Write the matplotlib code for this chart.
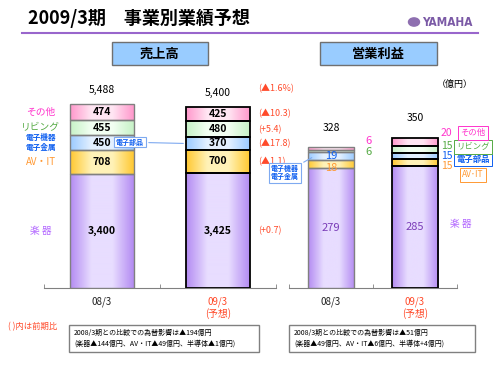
import numpy as np
import matplotlib
matplotlib.use("Agg")
import matplotlib.pyplot as plt
from matplotlib.patches import Rectangle, Circle
from matplotlib.colors import LinearSegmentedColormap

plt.rcParams['font.family'] = ['Noto Sans CJK JP', 'DejaVu Sans']

###############################################################################
# Data

categories = ['08/3', '09/3\n(予想)']
segments = ['楽 器', 'AV・IT', '電子機器\n電子金属', 'リビング', 'その他']

sales_0803 = [3400, 708, 450, 455, 474]
sales_0903 = [3425, 700, 370, 480, 425]
sales_totals = ['5,488', '5,400']
sales_change = ['(+0.7)', '(▲1.1)', '(▲17.8)', '(+5.4)', '(▲10.3)']
sales_total_change = '(▲1.6%)'

op_0803 = [279, 18, 19, 6, 6]
op_0903 = [285, 15, 15, 15, 20]
op_totals = ['328', '350']
op_box_labels = ['', 'AV･IT', '電子部品', 'リビング', 'その他']

note_sales = ['2008/3期との比較での為替影響は▲194億円',
              '(楽器▲144億円、AV・IT▲49億円、半導体▲1億円)']
note_op = ['2008/3期との比較での為替影響は▲51億円',
           '(楽器▲49億円、AV・IT▲6億円、半導体+4億円)']

###############################################################################
# Styles

edge_cols = ['#B48CF2', '#FFC933', '#9CCBFF', '#C8F2C8', '#FF99CC']
mid_cols = ['#E8DDFF', '#FFF2B8', '#E4F1FF', '#F2FFF2', '#FFE6F3']
text_cols = ['#B266FF', '#FF9933', '#1060F0', '#55AA44', '#FF33CC']
red = '#FF4A2A'

W, H = 500, 375


def fx(px):
    return px / W


def fy(py):
    return 1 - py / H


fig = plt.figure(figsize=(5, 3.75), dpi=100)


def gradient_bars(ax, x, vals, width, edgecolor, lw):
    bottom = 0
    for i, v in enumerate(vals):
        bar = ax.bar(x, v, width, bottom=bottom, facecolor='none',
                     edgecolor=edgecolor, linewidth=lw, zorder=4)[0]
        cmap = LinearSegmentedColormap.from_list(
            'g', [edge_cols[i], mid_cols[i], mid_cols[i], edge_cols[i]])
        grad = np.linspace(0, 1, 64).reshape(1, -1)
        im = ax.imshow(grad, cmap=cmap, aspect='auto', interpolation='bicubic',
                       extent=[x - width / 2, x + width / 2, bottom, bottom + v],
                       zorder=3)
        im.set_clip_path(bar)
        bottom += v
    return np.cumsum(vals)


def setup_axis(ax, ymax):
    ax.set_xlim(-0.5, 1.5)
    ax.set_ylim(0, ymax)
    for s in ['left', 'right', 'top']:
        ax.spines[s].set_visible(False)
    ax.spines['bottom'].set_color('#808080')
    ax.set_yticks([])
    ax.set_xticks([0, 1])
    ax.set_xticklabels(categories, fontsize=7, linespacing=1.1)
    ax.tick_params(axis='x', which='major', length=0, pad=6)
    ax.set_xticks([-0.5, 0.5, 1.5], minor=True)
    ax.tick_params(axis='x', which='minor', direction='in', length=3,
                   color='#808080')
    labels = ax.get_xticklabels()
    labels[0].set_color('#222222')
    labels[1].set_color(red)
    ax.patch.set_alpha(0)


###############################################################################
# Sales chart

ax1 = fig.add_axes([fx(44), fy(288), 232 / W, 208 / H])
setup_axis(ax1, 6204)
top1 = gradient_bars(ax1, 0, sales_0803, 0.55, '#808080', 1.0)
top2 = gradient_bars(ax1, 1, sales_0903, 0.55, 'black', 1.3)

for tops, vals, x in [(top1, sales_0803, 0), (top2, sales_0903, 1)]:
    for t, v in zip(tops, vals):
        ax1.text(x, t - v / 2, f'{v:,}', ha='center', va='center',
                 fontsize=7.5, fontweight='bold', zorder=6)
for x, lab, t in zip([0, 1], sales_totals, [top1[-1], top2[-1]]):
    ax1.annotate(lab, (x, t), xytext=(0, 10), textcoords='offset points',
                 ha='center', va='center', fontsize=7.5)

# segment names on the left
for i, (t, v) in enumerate(zip(top1, sales_0803)):
    fs = 5.5 if '\n' in segments[i] else 7
    ax1.text(-0.53, t - v / 2, segments[i], ha='center', va='center',
             fontsize=fs, color=text_cols[i], fontweight='bold' if fs < 6 else 'normal',
             linespacing=1.1, clip_on=False)

# change vs previous year
for t, v, lab in zip(top2, sales_0903, sales_change):
    ax1.text(1.345, t - v / 2, lab, ha='left', va='center', fontsize=6.5,
             color=red, clip_on=False)
ax1.annotate(sales_total_change, (1.345, top2[-1]), xytext=(0, 13),
             textcoords='offset points', ha='left', va='center',
             fontsize=6.5, color=red, annotation_clip=False)

# callout 電子部品
ax1.annotate('電子部品', xy=(1 - 0.275, top2[2] - sales_0903[2] / 2),
             xytext=(0.24, top2[2] - sales_0903[2] / 2 + 40),
             ha='center', va='center', fontsize=5, fontweight='bold',
             color='#1060F0', zorder=7,
             bbox=dict(boxstyle='square,pad=0.25', fc='white', ec='#7FAAF0', lw=0.8),
             arrowprops=dict(arrowstyle='-', color='#7FAAF0', lw=0.8))

###############################################################################
# Operating income chart

ax2 = fig.add_axes([fx(289), fy(288), 168 / W, 208 / H])
setup_axis(ax2, 484)
otop1 = gradient_bars(ax2, 0, op_0803, 0.55, '#808080', 1.0)
otop2 = gradient_bars(ax2, 1, op_0903, 0.55, 'black', 1.3)

ax2.text(0, otop1[0] / 2, f'{op_0803[0]}', ha='center', va='center',
         fontsize=8, color='#7A3CB8', zorder=6)
ax2.text(1, otop2[0] / 2, f'{op_0903[0]}', ha='center', va='center',
         fontsize=8, color='#7A3CB8', zorder=6)
for x, lab, t in zip([0, 1], op_totals, [otop1[-1], otop2[-1]]):
    ax2.annotate(lab, (x, t), xytext=(0, 14), textcoords='offset points',
                 ha='center', va='center', fontsize=7.5)

# 08/3 small segment values
for i, dy in [(1, -2.5), (2, 0)]:
    ax2.annotate(f'{op_0803[i]}', (0, otop1[i] - op_0803[i] / 2),
                 xytext=(0, dy), textcoords='offset points', ha='center',
                 va='center', fontsize=8, color=text_cols[i], zorder=6)
for i, dy in [(3, -1), (4, 5)]:
    ax2.annotate(f'{op_0803[i]}', (0.275, otop1[i] - op_0803[i] / 2),
                 xytext=(8, dy), textcoords='offset points', ha='left',
                 va='center', fontsize=8, color=text_cols[i],
                 annotation_clip=False)

# 09/3 values with boxed names (offsets in points: number, box)
offsets = {1: (-2.6, -9), 2: (-0.2, -2.4), 3: (2.6, 2), 4: (6.5, 6.7)}
for i in [1, 2, 3, 4]:
    y = otop2[i] - op_0903[i] / 2
    dn, db = offsets[i]
    ax2.annotate(f'{op_0903[i]}', (1.275, y), xytext=(2, dn),
                 textcoords='offset points', ha='left', va='center',
                 fontsize=7.5, color=text_cols[i], annotation_clip=False)
    ax2.annotate(op_box_labels[i], (1.275, y), xytext=(25, db),
                 textcoords='offset points', ha='center', va='center',
                 fontsize=6, color=text_cols[i],
                 fontweight='bold' if i == 2 else 'normal',
                 annotation_clip=False, zorder=7,
                 bbox=dict(boxstyle='square,pad=0.3', fc='white',
                           ec=text_cols[i], lw=0.7))
ax2.text(1.42, otop2[0] / 2 + 7, segments[0], ha='left', va='center',
         fontsize=7, color=text_cols[0], clip_on=False)

# callout 電子機器/電子金属
ax2.annotate(segments[2], xy=(-0.2, otop1[2] - op_0803[2] / 2),
             xytext=(-0.55, otop1[2] - 48),
             ha='center', va='center', fontsize=5, fontweight='bold',
             color='#1060F0', linespacing=1.2, zorder=7,
             bbox=dict(boxstyle='square,pad=0.3', fc='white', ec='#7FAAF0', lw=0.8),
             arrowprops=dict(arrowstyle='-', color='#7FAAF0', lw=0.8),
             annotation_clip=False)

fig.text(fx(455), fy(84), '（億円）', ha='center', va='center', fontsize=6.5)

###############################################################################
# Title, header boxes, notes

fig.text(fx(28), fy(18), '2009/3期　事業別業績予想', ha='left', va='center',
         fontsize=13, fontweight='bold')
fig.add_artist(plt.Line2D([fx(22), fx(478)], [fy(33), fy(33)],
                          color='#9966CC', lw=1.5))
fig.add_artist(Circle((fx(414), fy(22)), 5.5 / W, color='#8E6FB0',
                      transform=fig.transFigure))
fig.text(fx(422), fy(22), 'YAMAHA', ha='left', va='center', fontsize=8.5,
         fontweight='bold', color='#7B5AA6', family='DejaVu Sans',
         stretch='condensed')

for x0, x1, lab in [(112, 208, '売上高'), (320, 437, '営業利益')]:
    fig.add_artist(Rectangle((fx(x0), fy(65)), (x1 - x0) / W, 23 / H,
                             transform=fig.transFigure, fc='#99CCFF',
                             ec='#707070', lw=1))
    fig.text(fx((x0 + x1) / 2), fy(54), lab, ha='center', va='center',
             fontsize=9.5, fontweight='bold')

fig.text(fx(8), fy(327), '( )内は前期比', ha='left', va='center',
         fontsize=6, color=red)
for x0, x1, lines in [(69, 259, note_sales), (289, 475, note_op)]:
    fig.add_artist(Rectangle((fx(x0), fy(352)), (x1 - x0) / W, 27 / H,
                             transform=fig.transFigure, fc='white',
                             ec='#808080', lw=1))
    fig.text(fx(x0 + 5), fy(338.5), '\n'.join(lines), ha='left',
             va='center', fontsize=5, linespacing=1.5)

fig.savefig('out.png', dpi=100)
